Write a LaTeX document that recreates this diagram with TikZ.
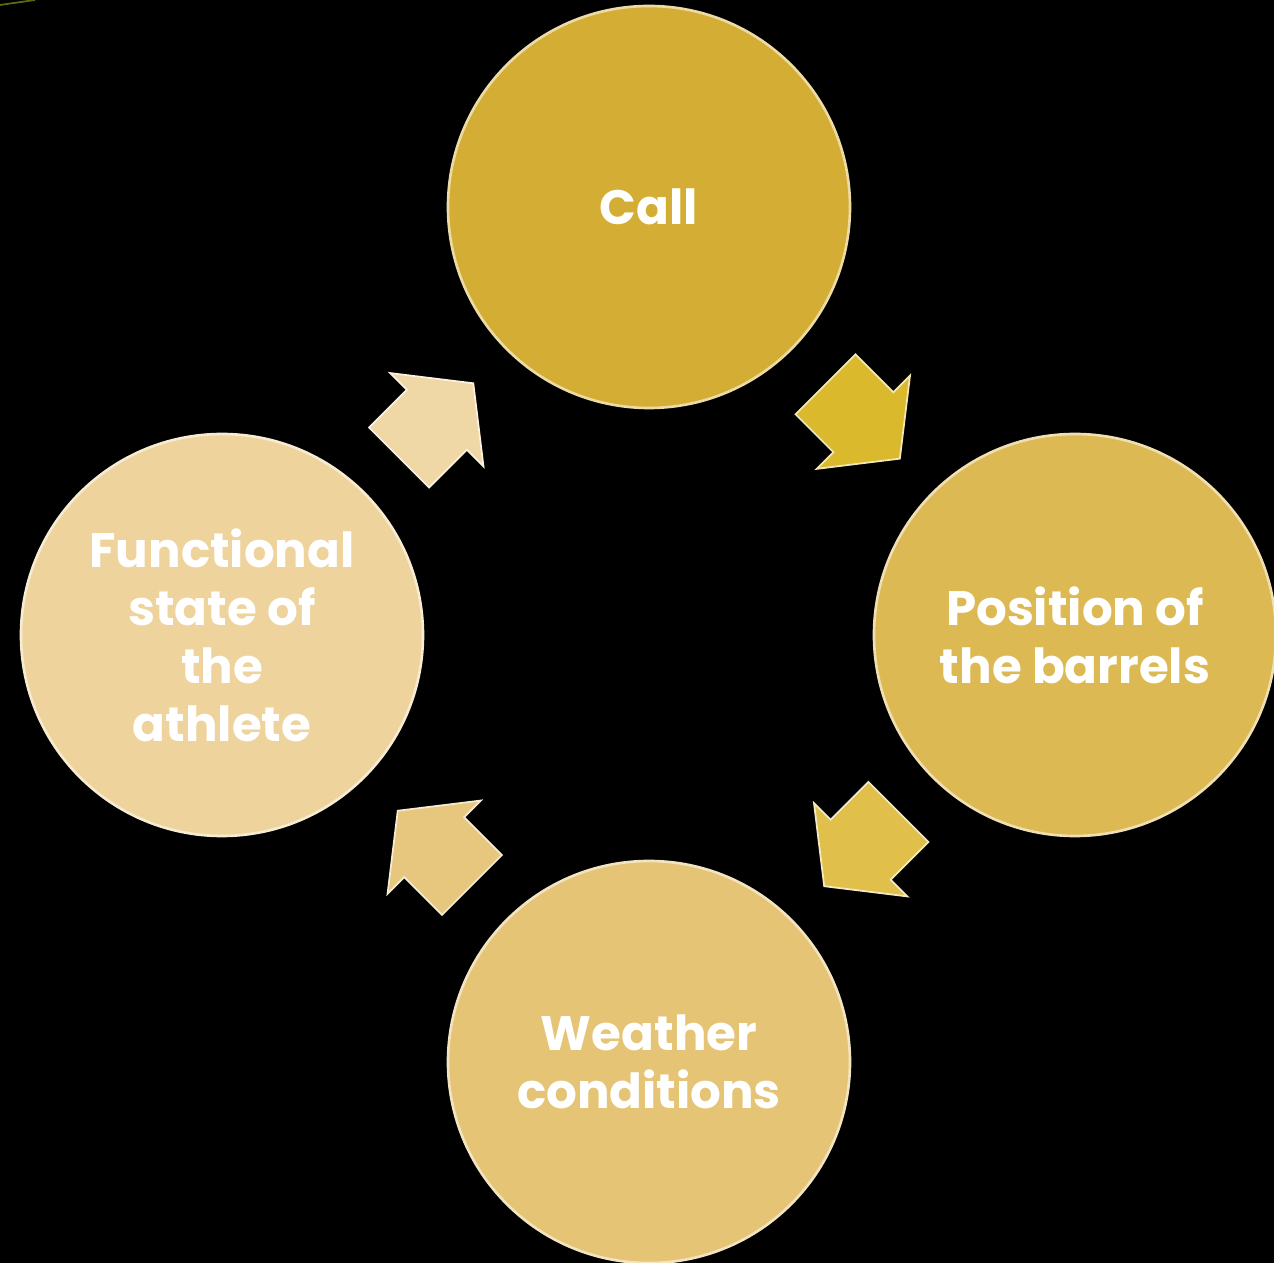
\documentclass[tikz,border=0pt]{standalone}
\usepackage{fontspec}
\setmainfont{Poppins}
\usetikzlibrary{positioning, shapes.arrows, calc}
\definecolor{callgold}{HTML}{D4AE34}
\definecolor{barrelgold}{HTML}{DDB953}
\definecolor{weathergold}{HTML}{E5C476}
\definecolor{athletegold}{HTML}{EED39C}
\definecolor{speckolive}{HTML}{5A6A12}

\begin{document}
\begin{tikzpicture}[
    every node/.style={font=\bfseries\fontsize{27.5}{33}\selectfont},
    stage/.style={circle, minimum size=8.04cm, inner sep=0pt, fill=#1, draw=#1!45!white, line width=1.5pt, text=white, align=center},
    turn/.style={single arrow, anchor=tail, minimum height=2.1cm, inner xsep=0pt, inner ysep=0.83cm, single arrow head extend=0.47cm, single arrow tip angle=104, fill=#1, draw=#1!35!white, line width=1pt},
  ]
  \useasboundingbox (-12.98,-12.56) rectangle (12.5,12.7);
  \fill[black] (-13.3,-12.9) rectangle (12.8,13);
  \draw[speckolive, line width=1pt] (-12.98,12.6) .. controls (-12.7,12.64) .. (-12.28,12.7);

  \node[stage=callgold] (call) at (0, 8.56) {Call};
  \node[stage=barrelgold] (barrels) at (8.52, 0) {Position of\\the barrels};
  \node[stage=weathergold] (weather) at (0, -8.54) {Weather\\conditions};
  \node[stage=athletegold] (athlete) at (-8.54, 0) {Functional\\state of\\the\\athlete};

  % block arrows: tail sits half a length before the midpoint
  \node[turn=callgold!85!yellow, rotate=-45] (callturn) at ($(call)!0.5!(barrels)!1.05cm!(call)$) {};
  \node[turn=barrelgold!90!yellow, rotate=-135] (barrelturn) at ($(barrels)!0.5!(weather)!1.05cm!(barrels)$) {};
  \node[turn=weathergold!95!white, rotate=135] (weatherturn) at ($(weather)!0.5!(athlete)!1.05cm!(weather)$) {};
  \node[turn=athletegold!90!white, rotate=45] (athleteturn) at ($(athlete)!0.5!(call)!1.05cm!(athlete)$) {};
\end{tikzpicture}
\end{document}
